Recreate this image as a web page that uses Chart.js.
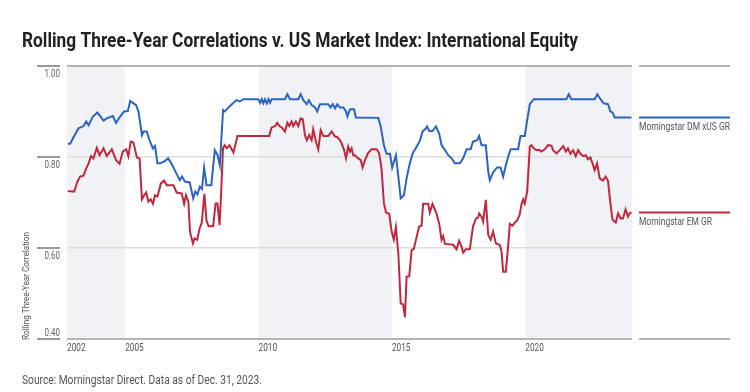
<!DOCTYPE html>
<html>
<head>
<meta charset="utf-8">
<script src="https://cdn.jsdelivr.net/npm/chart.js@4.4.1/dist/chart.umd.min.js"></script>
<style>
  html, body { margin: 0; padding: 0; background: #fff; }
  #wrap { width: 750px; height: 392px; position: relative; }
</style>
</head>
<body>
<div id="wrap"><canvas id="chart" width="750" height="392"></canvas></div>
<script>
// Morningstar DM xUS GR, rolling 3-year correlation with US market (decimal years)
const dmYears = [
  2002.85, 2002.94, 2003.06, 2003.25, 2003.44, 2003.54, 2003.63, 2003.79, 2003.96, 2004.19,
  2004.31, 2004.54, 2004.66, 2004.81, 2004.96, 2005.10, 2005.19, 2005.31, 2005.41, 2005.50,
  2005.63, 2005.69, 2005.81, 2005.91, 2006.04, 2006.12, 2006.21, 2006.31, 2006.49, 2006.61,
  2006.73, 2006.92, 2007.05, 2007.13, 2007.24, 2007.42, 2007.55, 2007.63, 2007.71, 2007.80,
  2007.88, 2007.96, 2008.05, 2008.23, 2008.36, 2008.46, 2008.55, 2008.67, 2008.73, 2008.86,
  2008.98, 2009.17, 2009.30, 2009.43, 2009.99, 2010.06, 2010.12, 2010.18, 2010.24, 2010.31,
  2010.37, 2010.43, 2010.49, 2010.99, 2011.08, 2011.18, 2011.49, 2011.58, 2011.68, 2011.81,
  2011.89, 2011.99, 2012.12, 2012.20, 2012.30, 2012.61, 2012.70, 2012.78, 2012.87, 2012.95,
  2013.05, 2013.18, 2013.28, 2013.33, 2013.43, 2013.58, 2013.65, 2014.49, 2014.58, 2014.70,
  2014.80, 2014.93, 2015.01, 2015.15, 2015.24, 2015.33, 2015.45, 2015.55, 2015.67, 2015.78,
  2015.93, 2016.05, 2016.15, 2016.24, 2016.32, 2016.40, 2016.52, 2016.65, 2016.77, 2016.86,
  2016.99, 2017.11, 2017.24, 2017.36, 2017.55, 2017.67, 2017.80, 2017.95, 2018.04, 2018.19,
  2018.27, 2018.36, 2018.52, 2018.61, 2018.67, 2018.79, 2018.94, 2019.07, 2019.17, 2019.27,
  2019.36, 2019.45, 2019.73, 2019.82, 2019.98, 2020.07, 2020.17, 2020.32, 2021.54, 2021.63,
  2021.73, 2022.60, 2022.70, 2022.82, 2022.94, 2023.10, 2023.19, 2023.27, 2023.35, 2023.98,
];
const dmValues = [
  0.829, 0.829, 0.843, 0.863, 0.868, 0.878, 0.870, 0.889, 0.898, 0.880,
  0.885, 0.890, 0.875, 0.889, 0.900, 0.901, 0.923, 0.918, 0.914, 0.900,
  0.848, 0.856, 0.856, 0.837, 0.819, 0.824, 0.786, 0.786, 0.791, 0.797,
  0.786, 0.764, 0.749, 0.757, 0.746, 0.744, 0.709, 0.724, 0.718, 0.735,
  0.730, 0.777, 0.738, 0.738, 0.815, 0.805, 0.782, 0.903, 0.900, 0.908,
  0.915, 0.925, 0.922, 0.927, 0.927, 0.919, 0.927, 0.918, 0.927, 0.918,
  0.927, 0.919, 0.927, 0.927, 0.938, 0.927, 0.927, 0.938, 0.925, 0.916,
  0.925, 0.914, 0.909, 0.900, 0.916, 0.916, 0.909, 0.916, 0.907, 0.916,
  0.909, 0.909, 0.900, 0.889, 0.905, 0.905, 0.887, 0.886, 0.867, 0.826,
  0.807, 0.807, 0.777, 0.804, 0.757, 0.709, 0.716, 0.753, 0.786, 0.808,
  0.823, 0.836, 0.856, 0.861, 0.867, 0.857, 0.857, 0.867, 0.852, 0.826,
  0.815, 0.804, 0.797, 0.786, 0.786, 0.797, 0.817, 0.817, 0.834, 0.837,
  0.846, 0.826, 0.826, 0.768, 0.749, 0.766, 0.777, 0.777, 0.757, 0.782,
  0.801, 0.817, 0.817, 0.846, 0.846, 0.881, 0.916, 0.927, 0.927, 0.938,
  0.927, 0.927, 0.938, 0.927, 0.918, 0.916, 0.900, 0.898, 0.887, 0.887,
];

// Morningstar EM GR
const emYears = [
  2002.85, 2003.09, 2003.21, 2003.31, 2003.44, 2003.54, 2003.63, 2003.72, 2003.81, 2003.94,
  2004.04, 2004.19, 2004.31, 2004.50, 2004.66, 2004.79, 2004.91, 2005.04, 2005.12, 2005.21,
  2005.31, 2005.44, 2005.54, 2005.63, 2005.71, 2005.79, 2005.87, 2005.96, 2006.04, 2006.12,
  2006.21, 2006.34, 2006.46, 2006.56, 2006.81, 2006.93, 2007.12, 2007.21, 2007.28, 2007.37,
  2007.43, 2007.54, 2007.60, 2007.70, 2007.79, 2007.87, 2007.97, 2008.05, 2008.13, 2008.30,
  2008.39, 2008.46, 2008.54, 2008.60, 2008.67, 2008.73, 2008.81, 2008.91, 2009.06, 2009.21,
  2010.40, 2010.49, 2010.62, 2010.70, 2010.78, 2010.87, 2010.99, 2011.08, 2011.15, 2011.24,
  2011.30, 2011.40, 2011.49, 2011.58, 2011.66, 2011.74, 2011.81, 2011.90, 2011.99, 2012.05,
  2012.15, 2012.24, 2012.33, 2012.43, 2012.61, 2012.74, 2012.87, 2012.95, 2013.05, 2013.12,
  2013.20, 2013.28, 2013.36, 2013.43, 2013.49, 2013.55, 2013.61, 2013.74, 2013.83, 2013.90,
  2013.99, 2014.11, 2014.24, 2014.43, 2014.52, 2014.61, 2014.70, 2014.78, 2014.90, 2014.99,
  2015.07, 2015.15, 2015.24, 2015.33, 2015.42, 2015.49, 2015.55, 2015.65, 2015.74, 2015.82,
  2015.93, 2016.02, 2016.11, 2016.17, 2016.36, 2016.42, 2016.52, 2016.67, 2016.77, 2016.86,
  2016.92, 2016.99, 2017.30, 2017.42, 2017.52, 2017.61, 2017.67, 2017.77, 2017.92, 2018.04,
  2018.15, 2018.23, 2018.27, 2018.36, 2018.42, 2018.52, 2018.61, 2018.70, 2018.79, 2018.90,
  2019.04, 2019.11, 2019.17, 2019.27, 2019.36, 2019.42, 2019.52, 2019.61, 2019.69, 2019.79,
  2019.86, 2019.92, 2019.98, 2020.07, 2020.17, 2020.23, 2020.32, 2020.42, 2020.52, 2020.61,
  2020.73, 2020.85, 2020.98, 2021.04, 2021.17, 2021.29, 2021.42, 2021.52, 2021.60, 2021.69,
  2021.79, 2021.89, 2021.98, 2022.07, 2022.17, 2022.27, 2022.35, 2022.44, 2022.52, 2022.60,
  2022.69, 2022.79, 2022.91, 2023.01, 2023.10, 2023.19, 2023.27, 2023.39, 2023.48, 2023.57,
  2023.66, 2023.76, 2023.85, 2023.91, 2023.98,
];
const emValues = [
  0.725, 0.724, 0.746, 0.757, 0.759, 0.775, 0.786, 0.802, 0.797, 0.820,
  0.804, 0.819, 0.802, 0.817, 0.793, 0.785, 0.812, 0.817, 0.802, 0.834,
  0.832, 0.799, 0.797, 0.707, 0.716, 0.722, 0.702, 0.707, 0.697, 0.716,
  0.713, 0.742, 0.748, 0.738, 0.738, 0.722, 0.720, 0.697, 0.716, 0.702,
  0.636, 0.610, 0.621, 0.618, 0.643, 0.655, 0.719, 0.660, 0.648, 0.648,
  0.698, 0.698, 0.650, 0.724, 0.820, 0.826, 0.819, 0.826, 0.810, 0.846,
  0.846, 0.865, 0.868, 0.875, 0.868, 0.865, 0.856, 0.875, 0.868, 0.878,
  0.868, 0.878, 0.868, 0.885, 0.883, 0.848, 0.837, 0.848, 0.837, 0.861,
  0.834, 0.817, 0.859, 0.846, 0.846, 0.856, 0.845, 0.844, 0.837, 0.829,
  0.817, 0.797, 0.823, 0.812, 0.819, 0.804, 0.804, 0.797, 0.793, 0.777,
  0.793, 0.809, 0.817, 0.817, 0.808, 0.775, 0.698, 0.678, 0.675, 0.636,
  0.618, 0.646, 0.588, 0.478, 0.476, 0.448, 0.537, 0.538, 0.596, 0.598,
  0.625, 0.647, 0.649, 0.697, 0.697, 0.678, 0.697, 0.676, 0.654, 0.618,
  0.626, 0.609, 0.607, 0.597, 0.616, 0.603, 0.590, 0.597, 0.597, 0.647,
  0.665, 0.667, 0.676, 0.669, 0.658, 0.706, 0.629, 0.618, 0.636, 0.610,
  0.607, 0.592, 0.548, 0.548, 0.607, 0.653, 0.649, 0.656, 0.660, 0.673,
  0.697, 0.707, 0.698, 0.724, 0.823, 0.826, 0.819, 0.815, 0.816, 0.812,
  0.817, 0.826, 0.825, 0.815, 0.808, 0.815, 0.824, 0.812, 0.819, 0.807,
  0.815, 0.802, 0.815, 0.807, 0.802, 0.804, 0.795, 0.799, 0.786, 0.771,
  0.786, 0.753, 0.748, 0.757, 0.748, 0.698, 0.662, 0.656, 0.676, 0.665,
  0.665, 0.685, 0.669, 0.676, 0.678,
];

const seriesNames = ["Morningstar DM xUS GR", "Morningstar EM GR"];
const seriesColors = ["#2b64c2", "#c1283d"];

const xMin = 2002.82;
const xMax = 2024.0;
const xTickValues = [2002.82, 2005, 2010, 2015, 2020];
const xTickLabels = ["2002", "2005", "2010", "2015", "2020"];
const yTickValues = [0.4, 0.6, 0.8, 1.0];
const yTickLabels = ["0.40", "0.60", "0.80", "1.00"];

// shaded 5-year bands
const bandFrom = [2002.82, 2010, 2020];
const bandTo = [2005, 2015, 2024];

const titleText = "Rolling Three-Year Correlations v. US Market Index: International Equity";
const sourceText = "Source: Morningstar Direct. Data as of Dec. 31, 2023.";
const yAxisTitle = "Rolling Three-Year Correlation";

const FONT = "Roboto, 'Liberation Sans', sans-serif";

function toPoints(xs, ys) {
  return xs.map((x, i) => ({ x, y: ys[i] }));
}

// draws text squeezed horizontally (the original uses a condensed face)
function drawText(ctx, text, x, y, opts) {
  ctx.save();
  ctx.font = opts.font;
  ctx.fillStyle = opts.color || "#555";
  ctx.textBaseline = opts.baseline || "alphabetic";
  ctx.textAlign = "left";
  const w = ctx.measureText(text).width;
  const sx = opts.width ? opts.width / w : (opts.scale || 0.8);
  const drawn = w * sx;
  let left = x;
  if (opts.align === "right") left = x - drawn;
  if (opts.align === "center") left = x - drawn / 2;
  ctx.translate(left, y);
  if (opts.rotate) ctx.rotate(opts.rotate);
  ctx.scale(sx, 1);
  ctx.fillText(text, 0, 0);
  ctx.restore();
}

function hline(ctx, x1, x2, y, color, width) {
  ctx.save();
  ctx.strokeStyle = color;
  ctx.lineWidth = width;
  ctx.beginPath();
  ctx.moveTo(x1, y);
  ctx.lineTo(x2, y);
  ctx.stroke();
  ctx.restore();
}

const decor = {
  id: "decor",
  beforeDraw(chart) {
    const { ctx, chartArea } = chart;
    const xs = chart.scales.x;
    ctx.save();
    ctx.fillStyle = "#f1f2f5";
    bandFrom.forEach((from, i) => {
      const a = xs.getPixelForValue(from);
      const b = xs.getPixelForValue(bandTo[i]);
      ctx.fillRect(a, chartArea.top, b - a, chartArea.bottom - chartArea.top);
    });
    ctx.restore();
  },
  afterDraw(chart) {
    const { ctx, chartArea } = chart;
    const xs = chart.scales.x;
    const ys = chart.scales.y;

    drawText(ctx, titleText, 22, 47, { font: `bold 21px ${FONT}`, color: "#222", width: 556 });
    drawText(ctx, sourceText, 22, 384, { font: `12.5px ${FONT}`, color: "#555", width: 240 });

    // y tick labels sit under their lines, except the bottom one
    yTickValues.forEach((v, i) => {
      const y = ys.getPixelForValue(v);
      hline(ctx, 37, 60, y, "#9a9a9a", 2);
      const yl = i === 0 ? y - 6 : y + 8;
      drawText(ctx, yTickLabels[i], 60, yl, {
        font: `10px ${FONT}`, color: "#666", baseline: "middle", align: "right", scale: 0.8,
      });
    });

    drawText(ctx, yAxisTitle, 27, 340, {
      font: `9.5px ${FONT}`, color: "#555", baseline: "middle", width: 108, rotate: -Math.PI / 2,
    });

    xTickValues.forEach((v, i) => {
      drawText(ctx, xTickLabels[i], xs.getPixelForValue(v), 348, {
        font: `11px ${FONT}`, color: "#555", baseline: "middle", scale: 0.75,
      });
    });

    // legend column on the right
    const lx1 = chartArea.right + 7;
    const lx2 = lx1 + 91;
    hline(ctx, lx1, lx2, chartArea.top, "#b5b5b5", 2);
    hline(ctx, lx1, lx2, chartArea.bottom, "#b5b5b5", 2);
    const lastVals = [dmValues[dmValues.length - 1], emValues[emValues.length - 1]];
    const labelWidths = [91, 73];
    lastVals.forEach((v, i) => {
      const y = ys.getPixelForValue(v);
      hline(ctx, lx1, lx2, y, seriesColors[i], 2);
      drawText(ctx, seriesNames[i], lx1, y + 12.5, {
        font: `10.5px ${FONT}`, color: "#555", width: labelWidths[i],
      });
    });
  },
};

new Chart(document.getElementById("chart"), {
  type: "line",
  data: {
    datasets: [
      {
        label: seriesNames[0],
        data: toPoints(dmYears, dmValues),
        borderColor: seriesColors[0],
        borderWidth: 2,
        pointRadius: 0,
        tension: 0,
      },
      {
        label: seriesNames[1],
        data: toPoints(emYears, emValues),
        borderColor: seriesColors[1],
        borderWidth: 2,
        pointRadius: 0,
        tension: 0,
      },
    ],
  },
  options: {
    responsive: false,
    animation: false,
    layout: { autoPadding: false, padding: { left: 67, top: 66, right: 118, bottom: 53 } },
    plugins: { legend: { display: false }, tooltip: { enabled: false } },
    scales: {
      x: {
        type: "linear",
        min: xMin,
        max: xMax,
        ticks: { display: false },
        grid: { display: false },
        border: { display: false },
        afterFit: (scale) => { scale.height = 0; },
      },
      y: {
        min: 0.4,
        max: 1.0,
        afterBuildTicks: (scale) => { scale.ticks = yTickValues.map((value) => ({ value })); },
        ticks: { display: false },
        border: { display: false },
        grid: {
          drawTicks: false,
          color: (c) => (c.tick && (c.tick.value === 0.4 || c.tick.value === 1.0) ? "#b5b5b5" : "#dedede"),
          lineWidth: (c) => (c.tick && (c.tick.value === 0.4 || c.tick.value === 1.0) ? 2 : 1.5),
        },
        afterFit: (scale) => { scale.width = 0; },
      },
    },
  },
  plugins: [decor],
});
</script>
</body>
</html>
